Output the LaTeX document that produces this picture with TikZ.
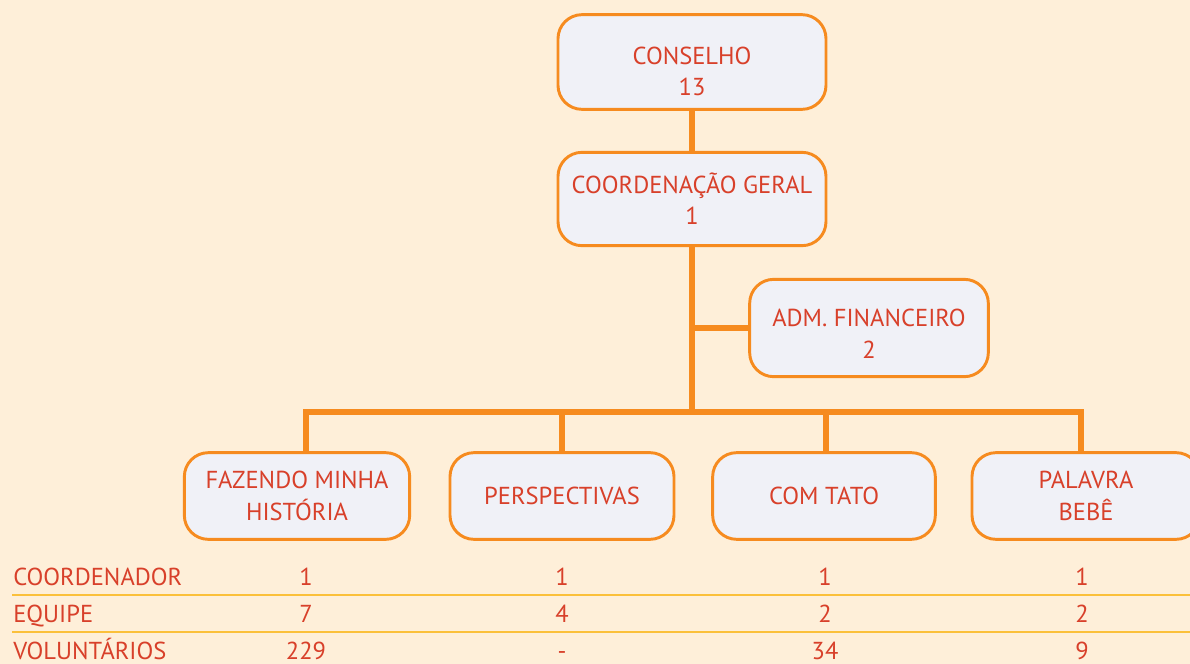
\documentclass[tikz,border=0pt]{standalone}
\usepackage{fontspec}
\setmainfont{PT Sans}
\definecolor{fundo}{HTML}{FEEFD9}
\definecolor{caixa}{HTML}{F0F1F7}
\definecolor{laranja}{HTML}{F68B1F}
\definecolor{texto}{HTML}{D8402A}
\definecolor{linha}{HTML}{FBC03A}
\begin{document}
\begin{tikzpicture}[x=0.75pt, y=-0.75pt]
			\tikzstyle{block} = [draw=laranja, line width=2.2pt, fill=caixa, rounded corners=18pt, text=texto, align=center, inner sep=0pt, font=\fontsize{18.4}{23.5}\selectfont]
			\tikzstyle{link} = [draw=laranja, line width=4pt]
			\tikzstyle{cell} = [text=texto, anchor=base, inner sep=0pt, font=\fontsize{18.4}{23.5}\selectfont]
			\fill[fundo] (0,0) rectangle (1190,664);
			\useasboundingbox (0,0) rectangle (1190,664);
			% organograma
			\node[block, minimum width=201pt, minimum height=71pt, text height=51pt] (conselho) at (692, 62) {CONSELHO\\13};
			\node[block, minimum width=201pt, minimum height=70pt] (geral) at (692, 199) {COORDENA\c{C}\~{A}O GERAL\\1};
			\node[block, minimum width=179pt, minimum height=73pt, text height=45pt] (adm) at (869, 328) {ADM. FINANCEIRO\\2};
			\coordinate (bus) at (692, 412);
			\node[block, minimum width=169pt, minimum height=65pt] (fazendo) at (297, 496) {FAZENDO MINHA\\HIST\'{O}RIA};
			\node[block, minimum width=168pt, minimum height=65pt] (persp) at (562, 496) {PERSPECTIVAS};
			\node[block, minimum width=167pt, minimum height=65pt] (tato) at (824, 496) {COM TATO};
			\node[block, minimum width=171pt, minimum height=65pt] (palavra) at (1086, 496) {PALAVRA\\BEB\^{E}};
			\draw[link] (conselho) -- (geral);
			\draw[link] (geral) -- (bus);
			\draw[link] (adm.west) -- (adm.west -| geral.south);
			\draw[link] (bus) -| ([xshift=6.75pt]fazendo.north);
			\draw[link] (bus) -| (persp.north);
			\draw[link] (bus) -| ([xshift=1.5pt]tato.north);
			\draw[link] (bus) -| ([xshift=-3.75pt]palavra.north);
			% tabela
			\draw[linha, line width=1.1pt] (12, 595) -- (1190, 595);
			\draw[linha, line width=1.1pt] (12, 632) -- (1190, 632);
			\node[cell, anchor=base west] (lcoord) at (13, 585) {COORDENADOR};
			\node[cell, anchor=base west] (lequipe) at (13, 622) {EQUIPE};
			\node[cell, anchor=base west] (lvol) at (13, 659) {VOLUNT\'{A}RIOS};
			\node[cell] (c1) at (306, 585) {1};
			\node[cell] (c2) at (562, 585) {1};
			\node[cell] (c3) at (825, 585) {1};
			\node[cell] (c4) at (1082, 585) {1};
			\node[cell] (e1) at (306, 622) {7};
			\node[cell] (e2) at (562, 622) {4};
			\node[cell] (e3) at (825, 622) {2};
			\node[cell] (e4) at (1082, 622) {2};
			\node[cell] (v1) at (306, 659) {229};
			\node[cell] (v2) at (562, 659) {-};
			\node[cell] (v3) at (825, 659) {34};
			\node[cell] (v4) at (1082, 659) {9};
\end{tikzpicture}
\end{document}
